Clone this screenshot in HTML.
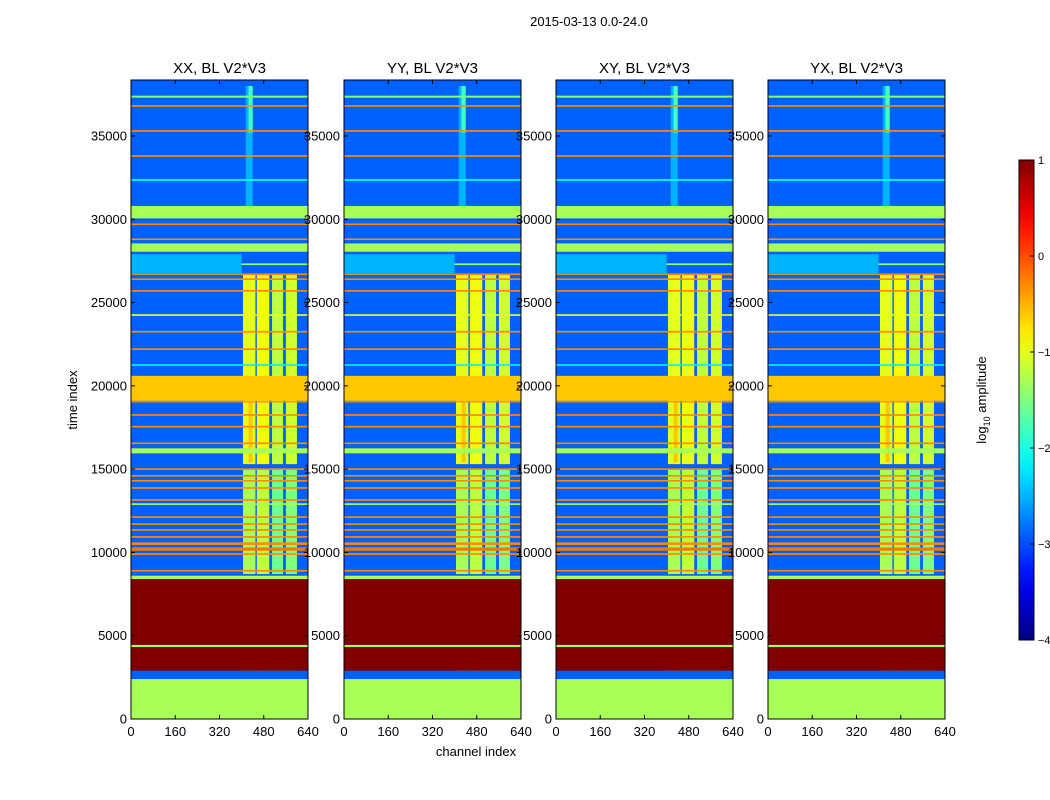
<!DOCTYPE html>
<html><head><meta charset="utf-8"><style>
html,body{margin:0;padding:0;background:#fff;}
svg{display:block;font-family:"Liberation Sans","DejaVu Sans",sans-serif;}
</style></head><body>
<svg id="chart" width="1050" height="800" viewBox="0 0 1050 800">
<text x="589" y="26" font-size="13" text-anchor="middle">2015-03-13 0.0-24.0</text>
<text x="77" y="400" font-size="13" text-anchor="middle" transform="rotate(-90 77 400)">time index</text>
<text x="476" y="756" font-size="13" text-anchor="middle">channel index</text>
<g id="panels"></g>
<g id="cbar"></g>
</svg>
<script>
const panelTitles = ["XX, BL V2*V3","YY, BL V2*V3","XY, BL V2*V3","YX, BL V2*V3"];
const panelLeft = [131,344,556,768];
const xTicks = [0,160,320,480,640];
const yTicks = [0,5000,10000,15000,20000,25000,30000,35000];
const cbarTicks = [1,0,-1,-2,-3,-4];
const baseValue = -2.9;
// horizontal bands: start time, end time, log10 amplitude
const bandStart = [0,2400,2900,4320,4450,8400,8850,9850,10100,10450,10880,11300,11650,12070,12850,13100,13820,14250,14550,14950,15950,16500,17500,18200,19000,19100,21200,22150,23200,24200,25650,26350,26650,27250,28050,28750,29650,30050,32300,33750,35250,36750,37300,26700];
const bandEnd   = [2400,2900,4320,4450,8400,8600,8950,9950,10300,10600,10980,11400,11750,12170,12950,13200,13920,14350,14650,15050,16250,16600,17600,18300,19080,20600,21300,22250,23300,24300,25750,26450,26750,27350,28550,28850,29750,30800,32420,33850,35350,36850,37420,27900];
const bandValue = [-1.3,-2.9,1,-1.3,1,-1.3,-0.3,-0.3,-0.2,-0.3,-0.3,-0.3,-0.3,-0.3,-1.3,-0.3,-0.3,-0.3,-0.3,-0.3,-1.3,-0.3,-0.3,-0.3,-0.3,-0.6,-2.2,-0.3,-0.3,-1.0,-0.3,-0.3,-0.3,-1.4,-1.3,-0.3,-0.3,-1.3,-2.2,-0.3,-0.3,-0.3,-1.5,-2.5];
// vertical channel columns: channel range, time range, value
const colChanStart = [405,455,510,560,405,455,510,560,405,455,510,560,415];
const colChanEnd   = [450,500,550,600,450,500,550,600,450,500,550,600,440];
const colTimeStart = [8700,8700,8700,8700,15300,15300,15300,15300,2400,2400,2400,2400,30800];
const colTimeEnd   = [15000,15000,15000,15000,26700,26700,26700,26700,2900,2900,2900,2900,38000];
const colValue     = [-1.3,-1.2,-1.6,-1.5,-1.0,-0.95,-1.2,-1.1,-0.9,-0.8,-1.0,-1.0,-2.5];
const streakStart = [15400,35200];
const streakEnd = [19000,38000];
const streakValue = [-0.6,-1.8];

const NS="http://www.w3.org/2000/svg";
const T0=0,T1=38360,C1=640,PT=80,PB=719,PW=177;
const vmin=-4,vmax=1;
function ty(t){return PB-(t-T0)/(T1-T0)*(PB-PT);}
function cx(left,c){return left+c/C1*PW;}
function clip(v){return Math.max(0,Math.min(1,v));}
function jet(v){const x=clip((v-vmin)/(vmax-vmin));
 const r=clip(1.5-Math.abs(4*x-3)),g=clip(1.5-Math.abs(4*x-2)),b=clip(1.5-Math.abs(4*x-1));
 return `rgb(${Math.round(r*255)},${Math.round(g*255)},${Math.round(b*255)})`;}
function mk(tag,attrs,parent){const e=document.createElementNS(NS,tag);for(const k in attrs)e.setAttribute(k,attrs[k]);parent.appendChild(e);return e;}
const panels=document.getElementById('panels');
panelLeft.forEach((L,p)=>{
 const g=mk('g',{},panels);
 
 
 const bg=mk('rect',{x:L,y:PT,width:PW,height:PB-PT,fill:jet(baseValue)},g);
 
 
 for(let i=0;i<colValue.length;i++){
  const r=mk('rect',{x:cx(L,colChanStart[i]),y:ty(colTimeEnd[i]),width:cx(L,colChanEnd[i])-cx(L,colChanStart[i]),height:ty(colTimeStart[i])-ty(colTimeEnd[i]),fill:jet(colValue[i])},g);
  
  
 }
 for(let i=0;i<streakValue.length;i++){
  const r=mk('rect',{x:cx(L,425),y:ty(streakEnd[i]),width:cx(L,440)-cx(L,425),height:ty(streakStart[i])-ty(streakEnd[i]),fill:jet(streakValue[i])},g);
  
  
 }
 for(let i=0;i<bandValue.length;i++){
  const h=Math.max(1,ty(bandStart[i])-ty(bandEnd[i]));
  const full=i<bandValue.length-1;
  const r=mk('rect',{x:L,y:ty(bandEnd[i]),width:full?PW:cx(L,400)-L,height:h,fill:jet(bandValue[i])},g);
  
  
 }
 mk('rect',{x:L,y:PT,width:PW,height:PB-PT,fill:'none',stroke:'#000','stroke-width':1},g);
 const t=mk('text',{x:L+PW/2,y:73,'font-size':15,'text-anchor':'middle'},g);
 t.textContent=panelTitles[p];
 
 
 xTicks.forEach(v=>{const x=cx(L,v);
  mk('line',{x1:x,y1:PB,x2:x,y2:PB-4,stroke:'#000'},g);
  mk('line',{x1:x,y1:PT,x2:x,y2:PT+4,stroke:'#000'},g);
  const lb=mk('text',{x:x,y:736,'font-size':13,'text-anchor':'middle'},g);
  lb.textContent=v;
  
  });
 yTicks.forEach(v=>{const y=ty(v);
  mk('line',{x1:L,y1:y,x2:L+4,y2:y,stroke:'#000'},g);
  mk('line',{x1:L+PW,y1:y,x2:L+PW-4,y2:y,stroke:'#000'},g);
  const lb=mk('text',{x:L-4,y:y+4.5,'font-size':13,'text-anchor':'end'},g);
  lb.textContent=v;
  
  });
});
// colorbar
const cb=document.getElementById('cbar');
const CT=160,CB=640,CX=1019,CW=15;
const defs=mk('defs',{},cb);
const gr=mk('linearGradient',{id:'jetg',x1:0,y1:1,x2:0,y2:0},defs);
for(let i=0;i<=20;i++){mk('stop',{offset:i/20,'stop-color':jet(vmin+(vmax-vmin)*i/20)},gr);}
const cr=mk('rect',{x:CX,y:CT,width:CW,height:CB-CT,fill:'url(#jetg)',stroke:'#000'},cb);


cbarTicks.forEach(v=>{const y=CB-(v-vmin)/(vmax-vmin)*(CB-CT);
 mk('line',{x1:CX+CW,y1:y,x2:CX+CW-4,y2:y,stroke:'#000'},cb);
 const lb=mk('text',{x:CX+CW+4,y:y+4,'font-size':11,'text-anchor':'start'},cb);
 lb.textContent=(v<0?'\u2212'+(-v):v);
 
 });
const cl=mk('text',{x:986,y:400,'font-size':13,'text-anchor':'middle',transform:'rotate(-90 986 400)'},cb);
cl.innerHTML='log<tspan font-size="9" dy="4">10</tspan><tspan dy="-4"> amplitude</tspan>';


</script>
</body></html>
